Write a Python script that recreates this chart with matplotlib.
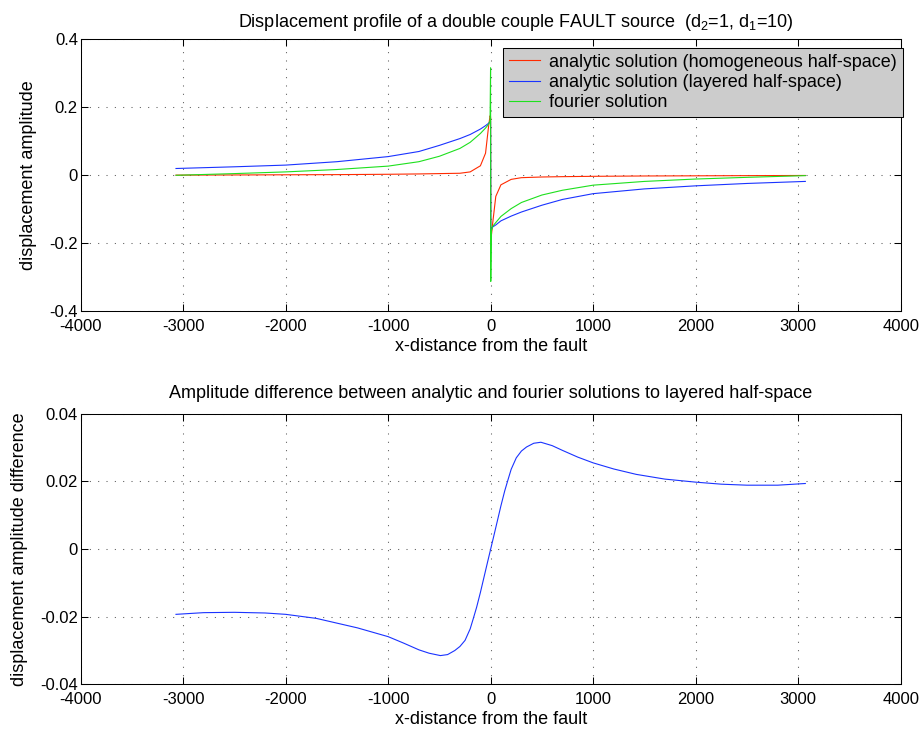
import matplotlib
matplotlib.use('Agg')
from matplotlib import pyplot as plt

plt.rcParams['font.family'] = ['Liberation Sans', 'DejaVu Sans']
plt.rcParams['mathtext.default'] = 'regular'

# top plot: displacement profiles
x_top = [-3070, -2500, -2000, -1500, -1000, -700, -500, -300, -200, -100, -50, -20, -6, -1,
         1, 6, 20, 50, 100, 200, 300, 500, 700, 1000, 1500, 2000, 2500, 3070]
homog = [0.0005, 0.001, 0.0015, 0.002, 0.003, 0.004, 0.005, 0.006, 0.010, 0.028, 0.065, 0.145, 0.175, 0.172,
         -0.178, -0.18, -0.14, -0.062, -0.028, -0.012, -0.007, -0.005, -0.004, -0.003, -0.002, -0.0015, -0.001, -0.0005]
layered = [0.020, 0.025, 0.030, 0.040, 0.055, 0.070, 0.088, 0.108, 0.120, 0.136, 0.146, 0.153, 0.158, 0.160,
           -0.162, -0.158, -0.152, -0.146, -0.134, -0.120, -0.108, -0.088, -0.071, -0.054, -0.040, -0.031, -0.024, -0.018]
fourier = [0.000, 0.005, 0.010, 0.017, 0.027, 0.040, 0.056, 0.079, 0.097, 0.123, 0.139, 0.150, 0.160, 0.316,
           -0.312, -0.165, -0.150, -0.139, -0.121, -0.098, -0.080, -0.058, -0.044, -0.029, -0.018, -0.011, -0.006, -0.001]

# bottom plot: amplitude difference
x_bot = [-3070, -2800, -2500, -2200, -2000, -1700, -1500, -1300, -1000, -850, -700, -600, -490, -420, -350,
         -300, -250, -200, -170, -137, -100, -72, -30, 0, 30, 72, 100, 137, 170, 200, 250, 300, 350, 420,
         490, 600, 700, 850, 1000, 1200, 1420, 1700, 2000, 2250, 2500, 2800, 3070]
diff = [-0.0193, -0.0188, -0.0187, -0.0189, -0.0193, -0.0205, -0.0219, -0.0233, -0.0259, -0.0278, -0.0298,
        -0.0308, -0.0315, -0.0312, -0.0300, -0.0288, -0.0270, -0.0236, -0.0206, -0.0172, -0.0128, -0.0092,
        -0.0038, 0.0, 0.0038, 0.0092, 0.0128, 0.0172, 0.0206, 0.0236, 0.0270, 0.0290, 0.0302, 0.0313,
        0.0316, 0.0306, 0.0292, 0.0272, 0.0255, 0.0237, 0.0221, 0.0207, 0.0198, 0.0192, 0.0189, 0.0189, 0.0194]

xticks = [-4000, -3000, -2000, -1000, 0, 1000, 2000, 3000, 4000]

red = '#ff2a00'
blue = '#1a33ff'
green = '#1ee01e'

fig = plt.figure(figsize=(9.23, 7.33), dpi=100)
ax1 = fig.add_axes([0.0874, 0.5753, 0.8884, 0.3711])
ax2 = fig.add_axes([0.0874, 0.0664, 0.8884, 0.3690])


def style(ax):
    ax.tick_params(direction='in', length=5, width=0.75, top=True, right=True, labelsize=12)
    ax.tick_params(axis='x', pad=5.5)
    ax.tick_params(axis='y', pad=2)
    for s in ax.spines.values():
        s.set_linewidth(0.75)
    ax.grid(True, color='0.35', linestyle=(0, (1, 7)), linewidth=0.75)
    ax.set_xlim(-4000, 4000)
    ax.set_xticks(xticks)
    ax.set_xticklabels([str(t) for t in xticks])


ax1.plot(x_top, homog, color=red, lw=0.8, label='analytic solution (homogeneous half-space)')
ax1.plot(x_top, layered, color=blue, lw=0.8, label='analytic solution (layered half-space)')
ax1.plot(x_top, fourier, color=green, lw=0.8, label='fourier solution')
style(ax1)
ax1.set_ylim(-0.4, 0.4)
ax1.set_yticks([-0.4, -0.2, 0, 0.2, 0.4])
ax1.set_yticklabels(['-0.4', '-0.2', '0', '0.2', '0.4'])
ax1.set_xlabel('x-distance from the fault', fontsize=13, labelpad=3)
ax1.set_ylabel('displacement amplitude', fontsize=13, labelpad=9)
ax1.text(0.531, 1.046, 'Displacement profile of a double couple FAULT source  (d$_2$=1, d$_1$=10)',
         transform=ax1.transAxes, ha='center', va='baseline', fontsize=13)
leg = ax1.legend(loc='upper right', bbox_to_anchor=(1.0024, 0.967), borderaxespad=0, fontsize=13,
                 fancybox=False, framealpha=1, handlelength=1.72, handletextpad=0.54,
                 labelspacing=0.18, borderpad=0.3)
leg.get_frame().set_facecolor('#cccccc')
leg.get_frame().set_edgecolor('black')
leg.get_frame().set_linewidth(0.75)

ax2.plot(x_bot, diff, color=blue, lw=0.8)
style(ax2)
ax2.set_ylim(-0.04, 0.04)
ax2.set_yticks([-0.04, -0.02, 0, 0.02, 0.04])
ax2.set_yticklabels(['-0.04', '-0.02', '0', '0.02', '0.04'])
ax2.set_xlabel('x-distance from the fault', fontsize=13, labelpad=3)
ax2.set_ylabel('displacement amplitude difference', fontsize=13, labelpad=9)
ax2.text(0.5, 1.059, 'Amplitude difference between analytic and fourier solutions to layered half-space',
         transform=ax2.transAxes, ha='center', va='baseline', fontsize=13)

fig.savefig('out.png', dpi=100)
